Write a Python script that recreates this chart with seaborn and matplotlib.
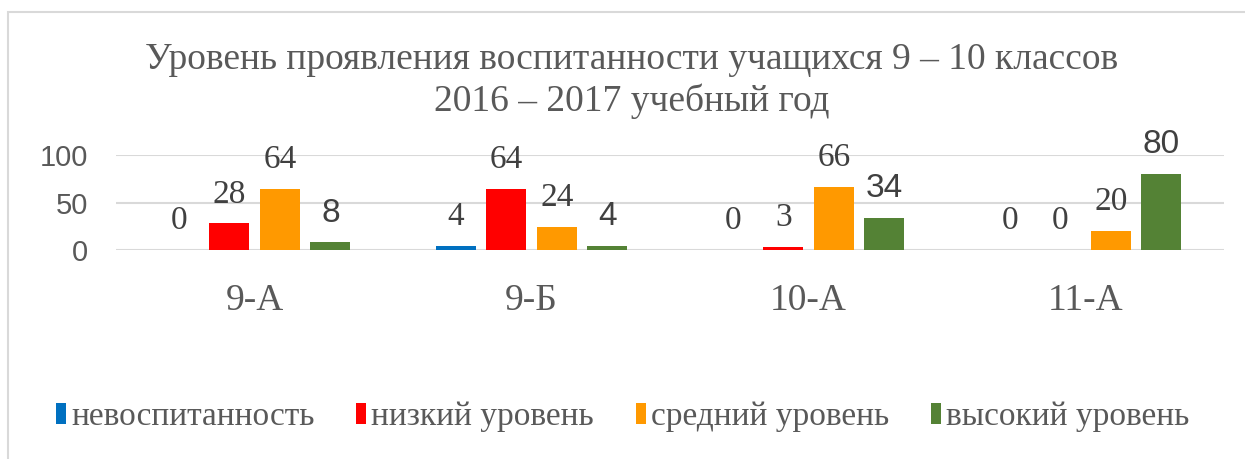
import pandas as pd
import seaborn as sns
import matplotlib.pyplot as plt
from matplotlib.patches import Rectangle

classes = ['9-А', '9-Б', '10-А', '11-А']
levels = ['невоспитанность', 'низкий уровень', 'средний уровень', 'высокий уровень']
values = {
    'невоспитанность': [0, 4, 0, 0],
    'низкий уровень': [28, 64, 3, 0],
    'средний уровень': [64, 24, 66, 20],
    'высокий уровень': [8, 4, 34, 80],
}
colors = ['#0070C0', '#FF0000', '#FF9900', '#548235']
title = 'Уровень проявления воспитанности учащихся 9 – 10 классов\n2016 – 2017 учебный год'


def main():
    sns.set_style('white')
    serif = ['Liberation Serif', 'DejaVu Serif']
    sans = ['Liberation Sans', 'DejaVu Sans']

    rows = []
    for lvl in levels:
        for cls, v in zip(classes, values[lvl]):
            rows.append({'class': cls, 'level': lvl, 'value': v})
    df = pd.DataFrame(rows)

    fig = plt.figure(figsize=(12.45, 4.59), dpi=100)
    ax = fig.add_axes([116 / 1245, 1 - 250 / 459, (1224 - 116) / 1245, 95 / 459])

    sns.barplot(data=df, x='class', y='value', hue='level', hue_order=levels,
                palette=colors, saturation=1, width=0.73, gap=0.21,
                linewidth=0, ax=ax, legend=True)

    ax.set_ylim(0, 100)
    ax.set_yticks([0, 50, 100])
    ax.yaxis.grid(True, color='#D9D9D9', linewidth=1.5)
    ax.set_axisbelow(True)
    for s in ax.spines.values():
        s.set_visible(False)
    ax.set_xlabel('')
    ax.set_ylabel('')
    ax.tick_params(axis='both', length=0)
    ax.tick_params(axis='y', pad=20)
    ax.tick_params(axis='x', pad=24)
    for t in ax.get_yticklabels():
        t.set_fontfamily(sans)
        t.set_fontsize(21)
        t.set_color('#595959')
    for t in ax.get_xticklabels():
        t.set_fontfamily(serif)
        t.set_fontsize(27)
        t.set_color('#595959')

    # data labels
    for i, cont in enumerate(ax.containers):
        fam = sans if i == 3 else serif
        ax.bar_label(cont, labels=[str(v) for v in values[levels[i]]],
                     padding=10, fontsize=24, color='#404040',
                     fontfamily=fam, clip_on=False)

    # legend
    handles, labels = ax.get_legend_handles_labels()
    ax.legend_.remove()
    fig.legend(handles, labels, loc='center', bbox_to_anchor=(0.5, 1 - 417 / 459),
               ncol=4, frameon=False, prop={'family': serif, 'size': 24},
               handlelength=0.3, handleheight=0.6, handletextpad=0.15,
               columnspacing=1.25, labelcolor='#595959')

    fig.text(632 / 1245, 1 - 81 / 459, title, ha='center', va='center',
             fontfamily=serif, fontsize=27, color='#595959', linespacing=1.25)

    # chart area border
    fig.patches.append(Rectangle((8 / 1245, -0.1), 1.1, 1 - 12 / 459 + 0.1,
                                 transform=fig.transFigure, fill=False,
                                 edgecolor='#D9D9D9', linewidth=1.5))

    fig.savefig('out.png', dpi=100)


if __name__ == '__main__':
    main()
